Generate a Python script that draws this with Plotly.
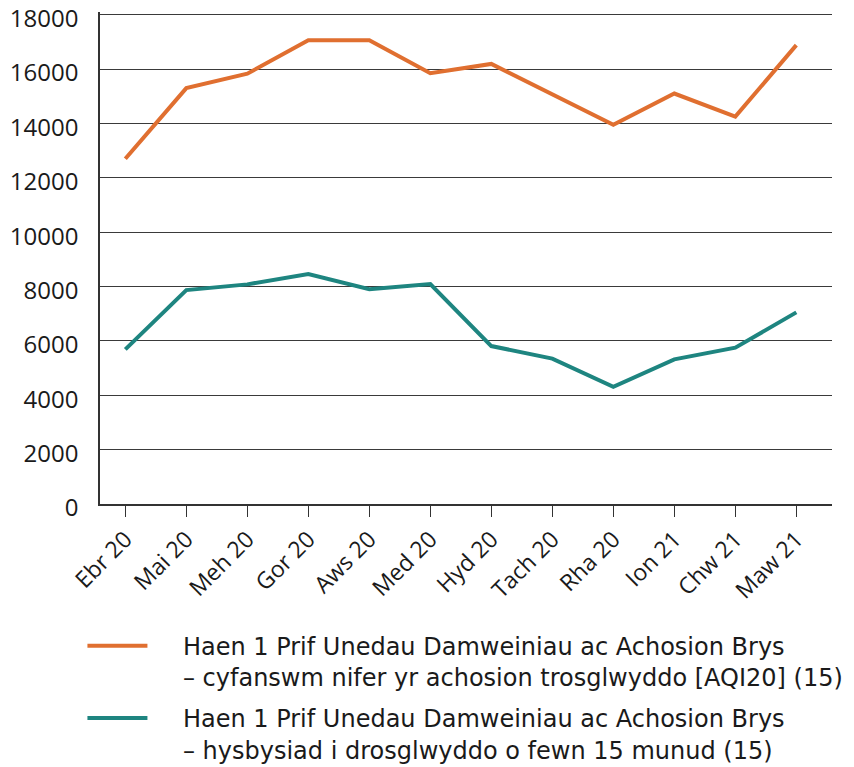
import plotly.graph_objects as go

months = ["Ebr 20", "Mai 20", "Meh 20", "Gor 20", "Aws 20", "Med 20",
          "Hyd 20", "Tach 20", "Rha 20", "Ion 21", "Chw 21", "Maw 21"]
total_transfers = [12700, 15300, 15830, 17060, 17060, 15850,
                   16190, 15050, 13950, 15100, 14250, 16880]
notified_15min = [5690, 7870, 8080, 8460, 7900, 8090,
                  5810, 5350, 4310, 5320, 5750, 7050]
PAD = "\u00a0\u00a0\u00a0\u00a0"
name_total = (PAD + "Haen 1 Prif Unedau Damweiniau ac Achosion Brys<br>"
              + PAD + "– cyfanswm nifer yr achosion trosglwyddo [AQI20] (15)")
name_notified = (PAD + "Haen 1 Prif Unedau Damweiniau ac Achosion Brys<br>"
                 + PAD + "– hysbysiad i drosglwyddo o fewn 15 munud (15)")
y_ticks = [0, 2000, 4000, 6000, 8000, 10000, 12000, 14000, 16000, 18000]

FONT = "Open Sans"
LEGEND_FONT = "DejaVu Sans"

fig = go.Figure()
fig.add_trace(go.Scatter(x=months, y=total_transfers, mode="lines", name=name_total,
                         legendgroup="a",
                         line=dict(color="#E06F30", width=4)))
fig.add_trace(go.Scatter(x=months, y=notified_15min, mode="lines", name=name_notified,
                         legendgroup="b",
                         line=dict(color="#1E8580", width=4)))

fig.update_layout(
    width=854, height=767,
    margin=dict(l=100, r=22, t=12, b=263, autoexpand=False),
    paper_bgcolor="white", plot_bgcolor="white",
    font=dict(family=FONT, size=24, color="#1a1a1a"),
    showlegend=True,
    legend=dict(
        orientation="v", x=-0.024, y=-0.243, xanchor="left", yanchor="top",
        font=dict(family=LEGEND_FONT, size=24, color="#1a1a1a"),
        valign="top", tracegroupgap=7, itemwidth=60,
    ),
    xaxis=dict(
        type="category", range=[-0.415, 11.585],
        showgrid=False, showline=True, linecolor="#333", linewidth=1.5,
        ticks="outside", ticklen=11, tickcolor="#333", tickwidth=1.2,
        tickangle=-45, tickfont=dict(family=FONT, size=23),
    ),
    yaxis=dict(
        range=[0, 18100], tickvals=y_ticks, ticktext=[str(v) for v in y_ticks],
        showgrid=True, gridcolor="#3a3a3a", gridwidth=1,
        showline=True, linecolor="#333", linewidth=1.5,
        zeroline=False, ticks="", ticklabelstandoff=15,
        ticklabelshift=4, ticklabeloverflow="allow",
        tickfont=dict(family=FONT, size=24),
    ),
)

fig.write_html("out.html", config={"displayModeBar": False},
               post_script="document.body.style.margin='0';")
